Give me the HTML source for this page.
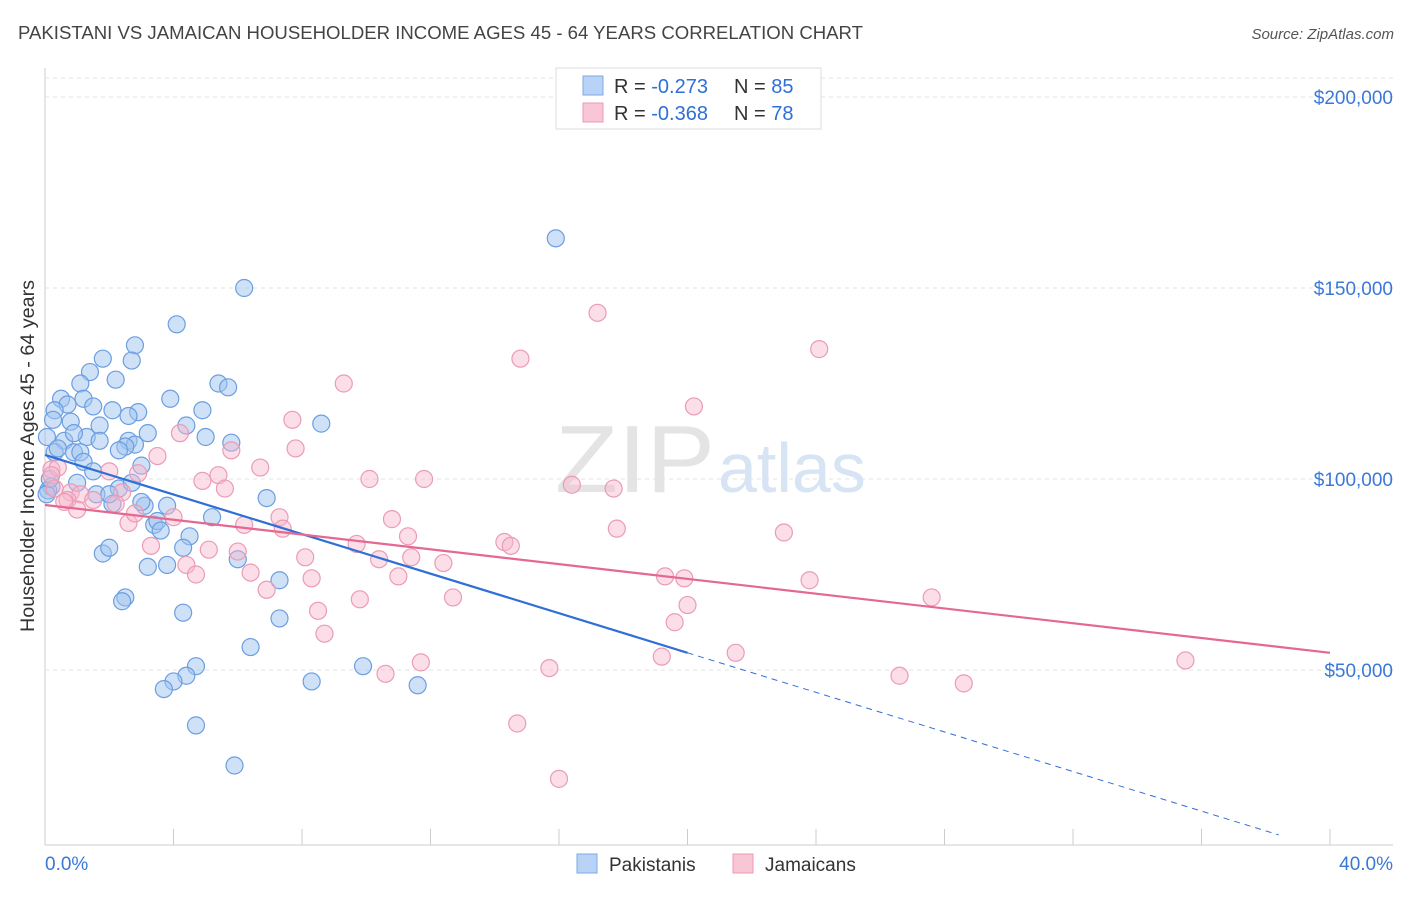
<!DOCTYPE html>
<html><head><meta charset="utf-8"><style>
body{margin:0;background:#fff;font-family:"Liberation Sans",sans-serif;}
svg text{font-family:"Liberation Sans",sans-serif;}
</style></head><body>
<svg id="chart" width="1406" height="892" xmlns="http://www.w3.org/2000/svg">
<text x="18" y="39" font-size="18" fill="#444" textLength="845" lengthAdjust="spacingAndGlyphs">PAKISTANI VS JAMAICAN HOUSEHOLDER INCOME AGES 45 - 64 YEARS CORRELATION CHART</text>
<text x="1394" y="39" font-size="15" fill="#555" font-style="italic" text-anchor="end">Source: ZipAtlas.com</text>
<text x="34" y="456" font-size="19" fill="#333" text-anchor="middle" transform="rotate(-90 34 456)" textLength="352" lengthAdjust="spacingAndGlyphs">Householder Income Ages 45 - 64 years</text>
<g id="grid"></g>
<text x="555" y="492" font-size="96" fill="#e4e4e4" font-family="Liberation Serif" textLength="160" lengthAdjust="spacingAndGlyphs">ZIP</text>
<text x="718" y="492" font-size="70" fill="#d6e4f4">atlas</text>
<g id="pts"></g>
<g id="lines"></g>
<g>
<rect x="556" y="68" width="265" height="61" fill="#fff" stroke="#ddd"/>
<rect x="583" y="76" width="20" height="19" fill="#b8d3f5" stroke="#7fa9e2"/>
<text x="614" y="93" font-size="20" fill="#333">R = <tspan fill="#2f6fd6">-0.273</tspan></text>
<text x="734" y="93" font-size="20" fill="#333">N = <tspan fill="#2f6fd6">85</tspan></text>
<rect x="583" y="103" width="20" height="19" fill="#f9c6d6" stroke="#e99ab5"/>
<text x="614" y="120" font-size="20" fill="#333">R = <tspan fill="#2f6fd6">-0.368</tspan></text>
<text x="734" y="120" font-size="20" fill="#333">N = <tspan fill="#2f6fd6">78</tspan></text>
</g>
<g>
<rect x="577" y="854" width="20" height="19" fill="#b8d3f5" stroke="#7fa9e2"/>
<text x="609" y="871" font-size="19" fill="#333">Pakistanis</text>
<rect x="733" y="854" width="20" height="19" fill="#f9c6d6" stroke="#e99ab5"/>
<text x="765" y="871" font-size="19" fill="#333">Jamaicans</text>
</g>
</svg>
<script>
const yTicks=[50000,100000,150000,200000];
const yTickLabels=["$50,000","$100,000","$150,000","$200,000"];
const xTickVals=[0,4,8,12,16,20,24,28,32,36,40];
const xEndLabels=["0.0%","40.0%"];
const pakX=[15.9,6.2,4.1,2.8,1.8,2.7,1.4,2.2,1.1,5.4,5.7,0.5,0.7,1.2,3.9,0.3,1.5,2.1,2.9,4.9,2.6,0.25,0.8,1.7,4.4,8.6,3.2,5.8,5,0.6,1.3,1.7,2.6,2.8,2.5,0.9,1.1,2.3,0.06,0.3,1.2,3,0.2,1.6,2.1,2.3,2.7,3.1,3.8,6.9,5.2,3.4,3.5,3.6,4.5,4.3,1.8,2,6,7.3,3.2,3.8,2.5,2.4,4.3,7.3,6.4,4.7,4.4,4,3.7,9.9,8.3,11.6,4.7,5.9,0.1,0.05,1.0,0.4,2.0,3.0,0.15,1.5,0.9];
const pakY=[163,150,140.5,135,131.5,131,128,126,125,125,124,121,119.5,121,121,118,119,118,117.5,118,116.5,115.5,115,114,114,114.5,112,109.5,111,110,111,110,110,109,108.5,107,107,107.5,111,107,104.5,103.5,98,96,93.5,97.5,99,93,93,95,90,88,89,86.5,85,82,80.5,82,79,73.5,77,77.5,69,68,65,63.5,56,51,48.5,47,45,51,47,46,35.5,25,97,96,99,108,96,94,100,102,112];
const jamX=[17.2,24.1,14.8,9.3,20.2,7.7,4.2,7.8,5.8,3.5,6.7,0.2,0.4,0.2,10.1,11.8,4.9,5.4,2.9,2,5.6,16.4,17.7,0.8,1.1,2.4,1.5,2.2,0.7,4,7.3,10.8,2.6,6.2,7.4,17.8,23,11.3,9.7,14.3,14.5,3.3,5.1,6,8.1,10.4,11.4,12.4,4.4,4.7,6.4,11,8.3,19.3,19.9,23.8,6.9,9.8,12.7,20,27.6,8.5,19.6,8.7,21.5,19.2,11.7,10.6,15.7,26.6,28.6,35.5,14.7,16,0.3,1.0,0.6,2.8];
const jamY=[143.5,134,131.5,125,119,115.5,112,108,107.5,106,103,102.5,103,101,100,100,99.5,101,101.5,102,97.5,98.5,97.5,96.5,96,96.5,94.5,93.5,94.5,90,90,89.5,88.5,88,87,87,86,85,83,83.5,82.5,82.5,81.5,81,79.5,79,79.5,78,77.5,75,75.5,74.5,74,74.5,74,73.5,71,68.5,69,67,69,65.5,62.5,59.5,54.5,53.5,52,49,50.5,48.5,46.5,52.5,36,21.5,97.5,92,94,91];
const pakFit=[106.3,-2.59];
const jamFit=[93.2,-0.9675];
const X=v=>45+v*1285/40;
const Y=v=>861-v*191/50000;
const NS="http://www.w3.org/2000/svg";
function mk(p,t,a){const e=document.createElementNS(NS,t);for(const k in a)e.setAttribute(k,a[k]);p.appendChild(e);return e;}
const grid=document.getElementById('grid');
let ax=mk(grid,'line',{x1:45,y1:68,x2:45,y2:845,stroke:'#ccc'});


let bx=mk(grid,'line',{x1:45,y1:845,x2:1393,y2:845,stroke:'#ccc'});


let tg=mk(grid,'line',{x1:45,y1:78,x2:1393,y2:78,stroke:'#e6e6e6','stroke-dasharray':'4,4'});


yTicks.forEach((v,i)=>{
 const l=mk(grid,'line',{x1:45,y1:Y(v),x2:1393,y2:Y(v),stroke:'#e3e3e3','stroke-dasharray':'4,4'});
 
 
 const t=mk(grid,'text',{x:1393,y:Y(v)+7,'font-size':19,fill:'#3a78d8','text-anchor':'end'});
 t.textContent=yTickLabels[i];
 
 
});
xTickVals.forEach(v=>{
 const l=mk(grid,'line',{x1:X(v),y1:829,x2:X(v),y2:845,stroke:'#ccc'});
 
 
});
[[0,45,'start'],[40,1393,'end']].forEach((a,i)=>{
 const t=mk(grid,'text',{x:a[1],y:870,'font-size':19,fill:'#3a78d8','text-anchor':a[2]});
 t.textContent=xEndLabels[i];
 
 
});
const pts=document.getElementById('pts');
pakX.forEach((x,i)=>{
 const c=mk(pts,'circle',{cx:X(x),cy:Y(pakY[i]*1000),r:8.5,fill:'rgba(160,196,240,0.5)',stroke:'#6b9ee2','stroke-width':1.2});
 
 
});
jamX.forEach((x,i)=>{
 const c=mk(pts,'circle',{cx:X(x),cy:Y(jamY[i]*1000),r:8.5,fill:'rgba(246,182,203,0.45)',stroke:'#eb9bb6','stroke-width':1.2});
 
 
});
const lines=document.getElementById('lines');
const pf=x=>(pakFit[0]+pakFit[1]*x)*1000, jf=x=>(jamFit[0]+jamFit[1]*x)*1000;
let l1=mk(lines,'line',{x1:X(0),y1:Y(pf(0)),x2:X(20),y2:Y(pf(20)),stroke:'#2f6fd6','stroke-width':2.2});


let l2=mk(lines,'line',{x1:X(20),y1:Y(pf(20)),x2:X(38.4),y2:Y(pf(38.4)),stroke:'#2f6fd6','stroke-width':1,'stroke-dasharray':'6,5'});


let l3=mk(lines,'line',{x1:X(0),y1:Y(jf(0)),x2:X(40),y2:Y(jf(40)),stroke:'#e4688f','stroke-width':2.2});


</script>
</body></html>
